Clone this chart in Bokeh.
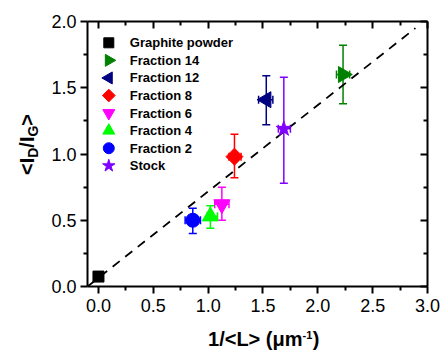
import math
from bokeh.plotting import figure
from bokeh.layouts import row, column
from bokeh.core.properties import value
from bokeh.models import (ColumnDataSource, Whisker, TeeHead, LinearAxis, FixedTicker,
                          PrintfTickFormatter)
from bokeh.embed import file_html
from bokeh.resources import INLINE

# ---------------- data ----------------
names = ["Graphite powder", "Fraction 14", "Fraction 12", "Fraction 8",
         "Fraction 6", "Fraction 4", "Fraction 2", "Stock"]
x_vals = [0.0, 2.23, 1.53, 1.24, 1.125, 1.02, 0.86, 1.69]
y_vals = [0.075, 1.60, 1.41, 0.98, 0.62, 0.53, 0.50, 1.19]
y_low = [None, 1.38, 1.22, 0.82, 0.50, 0.44, 0.40, 0.78]
y_high = [None, 1.82, 1.59, 1.15, 0.75, 0.61, 0.59, 1.58]
x_low = [None, 2.17, 1.46, 1.19, 1.06, 0.99, 0.79, 1.64]
x_high = [None, 2.29, 1.59, 1.30, 1.19, 1.085, 0.93, 1.75]

fit_x = [-0.1, 2.89]
fit_y = [0.0, 1.95]

x_ticks = [0.0, 0.5, 1.0, 1.5, 2.0, 2.5, 3.0]
y_ticks = [0.0, 0.5, 1.0, 1.5, 2.0]

# ---------------- styles ----------------
colors = ["#000000", "#008000", "#000080", "#ff0000", "#ff00ff", "#00ff00", "#0000ff", "#8000ff"]
markers = ["square", "triangle", "triangle", "square", "inverted_triangle", "triangle", "circle", "star"]
angles = [0, -math.pi / 2, math.pi / 2, math.pi / 4, 0, 0, 0, 0]
sizes = [11, 16, 16, 12, 16, 16, 14, 16]
leg_sizes = [10, 12, 12, 9, 12, 12, 11, 13]

FONT = "Liberation Sans"
X0, X1 = -0.1, 3.0
Y0, Y1 = 0.0, 2.0
W, H = 445, 354
YLAB_W = 45
XLAB_H = 30
TOP_H = H - XLAB_H
ML, MR, MT, MB = 87, 18, 21, 38   # frame edges of main plot (canvas px)
FRAME_W = W - ML - MR
FRAME_H = TOP_H - MT - MB

p = figure(width=W - YLAB_W, height=TOP_H, x_range=(X0, X1), y_range=(Y0, Y1),
           output_backend="svg", toolbar_location=None, title=None,
           min_border_left=ML - YLAB_W, min_border_right=MR, min_border_top=MT,
           min_border_bottom=MB, x_axis_location=None, y_axis_location=None)
p.xgrid.visible = False
p.ygrid.visible = False
p.outline_line_color = None
p.background_fill_color = "white"
p.border_fill_color = "white"


def minor_of(ticks):
    return [(a + b) / 2 for a, b in zip(ticks[:-1], ticks[1:])]


def make_axis(ticks, labelled, inward):
    ax = LinearAxis(ticker=FixedTicker(ticks=ticks, minor_ticks=minor_of(ticks)),
                    formatter=PrintfTickFormatter(format="%.1f"))
    ax.axis_line_width = 2
    ax.major_tick_line_width = 2
    ax.minor_tick_line_width = 2
    if inward:
        ax.major_tick_in, ax.major_tick_out = 7, 0
        ax.minor_tick_in, ax.minor_tick_out = 4, 0
    else:
        ax.major_tick_in, ax.major_tick_out = 0, 7
        ax.minor_tick_in, ax.minor_tick_out = 0, 4
    if labelled:
        ax.major_label_text_font = FONT
        ax.major_label_text_font_size = "18px"
        ax.major_label_text_color = "black"
    else:
        ax.major_label_text_color = None
        ax.major_label_text_font_size = "1px"
        ax.major_label_standoff = 0
    return ax


bx = make_axis(x_ticks, True, False)
bx.major_label_standoff = 5
ly = make_axis(y_ticks, True, False)
ly.major_label_standoff = 4
p.add_layout(bx, "below")
p.add_layout(ly, "left")
p.add_layout(make_axis(x_ticks, False, True), "above")
p.add_layout(make_axis(y_ticks, False, True), "right")

# fit line
p.line(fit_x, fit_y, line_color="black", line_width=1.8, line_dash="9 7")

# error bars and points
for i, name in enumerate(names):
    c = colors[i]
    if y_low[i] is not None:
        src = ColumnDataSource(dict(x=[x_vals[i]], y=[y_vals[i]], yl=[y_low[i]], yh=[y_high[i]],
                                    xl=[x_low[i]], xh=[x_high[i]]))
        p.add_layout(Whisker(source=src, base="x", lower="yl", upper="yh", dimension="height",
                             line_color=c, line_width=1.5,
                             lower_head=TeeHead(size=8, line_color=c, line_width=1.5),
                             upper_head=TeeHead(size=8, line_color=c, line_width=1.5)))
        p.add_layout(Whisker(source=src, base="y", lower="xl", upper="xh", dimension="width",
                             line_color=c, line_width=1.5,
                             lower_head=TeeHead(size=8, line_color=c, line_width=1.5),
                             upper_head=TeeHead(size=8, line_color=c, line_width=1.5)))
    p.scatter([x_vals[i]], [y_vals[i]], marker=markers[i], size=sizes[i], angle=angles[i],
              fill_color=c, line_color=c)


# ---------------- legend (drawn by hand so rotated markers keep their direction) ----------------
def px_to_x(px):
    return X0 + (px - ML) * (X1 - X0) / FRAME_W


def py_to_y(py):
    return Y0 + (MT + FRAME_H - py) * (Y1 - Y0) / FRAME_H


LEG_GLYPH_X, LEG_TEXT_X, LEG_Y0, LEG_DY = 108.3, 129.3, 42.3, 17.57
leg = ColumnDataSource(dict(
    gx=[px_to_x(LEG_GLYPH_X)] * len(names),
    tx=[px_to_x(LEG_TEXT_X)] * len(names),
    y=[py_to_y(LEG_Y0 + k * LEG_DY) for k in range(len(names))],
    name=names, color=colors, marker=markers, angle=angles, size=leg_sizes))
p.scatter(x="gx", y="y", marker="marker", angle="angle", size="size",
          fill_color="color", line_color="color", source=leg)
p.text(x="tx", y="y", text="name", source=leg, text_font=value(FONT),
       text_font_size=value("13px"), text_font_style=value("bold"),
       text_align=value("left"), text_baseline=value("middle"), text_color="black")

# ---------------- axis titles, built from pieces in side figures ----------------
EM = {"<": 0.584, ">": 0.584, "I": 0.278, "/": 0.278, "D": 0.722, "G": 0.778,
      "1": 0.556, "L": 0.611, " ": 0.278, "(": 0.333, ")": 0.333, "μ": 0.611,
      "m": 0.889, "-": 0.333}
MID = 0.358   # cap-middle above the baseline, in em


def tw(s, size):
    return sum(EM.get(ch, 0.6) for ch in s) * size


def blank_fig(w, h, yr, top=0, bottom=0):
    f = figure(width=w, height=h, x_range=(0, w), y_range=yr, output_backend="svg",
               toolbar_location=None, x_axis_location=None, y_axis_location=None, title=None,
               min_border=0, min_border_left=0, min_border_right=0,
               min_border_top=top, min_border_bottom=bottom)
    f.xgrid.visible = False
    f.ygrid.visible = False
    f.outline_line_color = None
    f.background_fill_color = "white"
    f.border_fill_color = "white"
    return f


def put(f, xs, ys, texts, size, angle):
    f.text(x=xs, y=ys, text=texts, angle=angle, text_font=value(FONT),
           text_font_size=value(f"{size}px"), text_font_style=value("bold"),
           text_align=value("left"), text_baseline=value("middle"), text_color="black")


# y label: <I_D/I_G>, rotated; its frame matches the main frame, data y = TOP_H - canvas y
ylab = blank_fig(YLAB_W, TOP_H, (TOP_H - MT - FRAME_H, TOP_H - MT), top=MT, bottom=MB)
y_pieces = [("<I", 20, 0), ("D", 14, 4), ("/I", 20, 0), ("G", 14, 4), (">", 20, 0)]
total = sum(tw(t, s) for t, s, _ in y_pieces)
pos = (TOP_H - 144) - total / 2
BASE_X = 34
for t, s, drop in y_pieces:
    put(ylab, [BASE_X + drop - MID * s], [pos], [t], s, math.pi / 2)
    pos += tw(t, s)

# x label: 1/<L> (μm^-1); data y = H - canvas y
xlab = blank_fig(W, XLAB_H, (0, XLAB_H))
x_pieces = [("1/<L> (μm", 20, 0), ("-1", 11, 8), (")", 20, 0)]
total = sum(tw(t, s) for t, s, _ in x_pieces)
pos = 263 - total / 2
base = H - 346
for t, s, rise in x_pieces:
    put(xlab, [pos], [base + rise + MID * s], [t], s, 0)
    pos += tw(t, s) + (0.5 if s < 20 else 0)

layout = column(row(ylab, p, spacing=0), xlab, spacing=0)
open("out.html", "w").write(file_html(layout, INLINE))
